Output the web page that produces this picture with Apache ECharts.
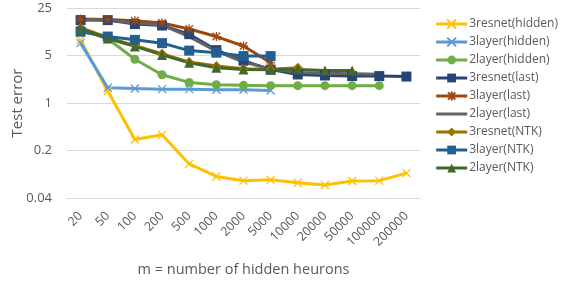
<!DOCTYPE html>
<html>
<head>
  <meta charset="utf-8">
  <title>Test error vs hidden neurons</title>
  <style>
    html, body { margin: 0; padding: 0; background: #fff; }
    #chart { width: 563px; height: 281px; }
  </style>
  <script src="https://cdn.jsdelivr.net/npm/echarts@6/dist/echarts.min.js"></script>
</head>
<body>
  <div id="chart"></div>
  <script>
    // x categories
    var neurons = ['20', '50', '100', '200', '500', '1000', '2000', '5000', '10000', '20000', '50000', '100000', '200000'];

    // test error per series (null = no point)
    var resnet3Hidden = [8.4, 1.5, 0.29, 0.34, 0.127, 0.083, 0.072, 0.074, 0.067, 0.062, 0.071, 0.072, 0.093];
    var layer3Hidden = [7.6, 1.68, 1.63, 1.6, 1.6, 1.57, 1.57, 1.53, null, null, null, null, null];
    var layer2Hidden = [12, 8.8, 4.4, 2.6, 2.01, 1.86, 1.82, 1.8, 1.8, 1.8, 1.8, 1.8, null];
    var resnet3Last = [16.6, 16.6, 14.5, 13.8, 10.3, 6.0, 4.2, 3.1, 2.63, 2.54, 2.49, 2.49, 2.45];
    var layer3Last = [17.2, 17, 16.2, 15, 12.3, 9.5, 6.9, 3.9, null, null, null, null, null];
    var layer2Last = [16.8, 16.5, 15, 14, 9.5, 5.8, 4.0, 3.2, 2.8, 2.75, 2.7, 2.65, null];
    var resnet3NTK = [12.8, 9.2, 7.0, 5.3, 4.0, 3.5, 3.2, 3.15, 3.3, null, null, null, null];
    var layer3NTK = [11.2, 9.5, 8.5, 7.6, 5.9, 5.5, 4.9, 4.9, null, null, null, null, null];
    var layer2NTK = [12.3, 8.9, 6.8, 5.1, 3.9, 3.3, 3.1, 3.08, 3.1, 3.0, 3.0, null, null];

    var yTicks = [0.04, 0.2, 1, 5, 25];

    var xMark = 'path://M0,0L10,10M10,0L0,10';
    var starMark = 'path://M0,0L10,10M10,0L0,10M5,-1L5,11M-1,5L11,5';

    function mk(name, data, color, symbol, size, hollow) {
      return {
        name: name,
        type: 'line',
        data: data,
        symbol: symbol,
        symbolSize: size,
        connectNulls: false,
        lineStyle: { color: color, width: 3 },
        itemStyle: { color: color, borderColor: color, borderWidth: hollow ? 1.3 : 0 },
        emphasis: { disabled: true },
        animation: false
      };
    }

    var legendNames = ['3resnet(hidden)', '3layer(hidden)', '2layer(hidden)', '3resnet(last)', '3layer(last)', '2layer(last)', '3resnet(NTK)', '3layer(NTK)', '2layer(NTK)'];

    var chart = echarts.init(document.getElementById('chart'));
    chart.setOption({
      backgroundColor: '#fff',
      textStyle: { fontFamily: 'Open Sans, Noto Sans, sans-serif' },
      grid: { left: 67, right: 143, top: 8, bottom: 83, containLabel: false, outerBoundsMode: 'none' },
      legend: {
        orient: 'vertical',
        right: 0,
        top: 13,
        itemWidth: 31,
        itemHeight: 11,
        itemGap: 6,
        lineStyle: { width: 3 },
        textStyle: { color: '#595959', fontSize: 12, padding: [0, 0, 0, -3] },
        data: legendNames.map(function (n) {
          return n === '2layer(last)' ? { name: n, itemStyle: { opacity: 0 } } : n;
        })
      },
      xAxis: {
        type: 'category',
        data: neurons,
        boundaryGap: true,
        name: 'm = number of hidden heurons',
        nameLocation: 'middle',
        nameGap: 64,
        nameMoveOverlap: false,
        nameTextStyle: { color: '#595959', fontSize: 14.5 },
        axisLine: { lineStyle: { color: '#D9D9D9' } },
        axisTick: { show: false },
        axisLabel: { rotate: 45, interval: 0, color: '#595959', fontSize: 12.5, margin: 16 }
      },
      yAxis: {
        type: 'log',
        logBase: 5,
        min: 0.04,
        max: 25,
        name: 'Test error',
        nameLocation: 'middle',
        nameGap: 42,
        nameMoveOverlap: false,
        nameTextStyle: { color: '#595959', fontSize: 15 },
        axisLine: { show: false },
        axisTick: { show: false },
        splitLine: { lineStyle: { color: '#D9D9D9' } },
        axisLabel: {
          color: '#595959', fontSize: 13, margin: 15,
          formatter: function (v) {
            for (var i = 0; i < yTicks.length; i++) {
              if (Math.abs(v - yTicks[i]) / yTicks[i] < 0.01) return String(yTicks[i]);
            }
            return '';
          }
        }
      },
      series: [
        mk('3resnet(hidden)', resnet3Hidden, '#FFC000', xMark, 8, true),
        mk('3layer(hidden)', layer3Hidden, '#5B9BD5', xMark, 8, true),
        mk('2layer(hidden)', layer2Hidden, '#70AD47', 'circle', 9),
        mk('3resnet(last)', resnet3Last, '#264478', 'rect', 10),
        mk('3layer(last)', layer3Last, '#9E480E', starMark, 9, true),
        mk('2layer(last)', layer2Last, '#636363', 'none', 0),
        mk('3resnet(NTK)', resnet3NTK, '#997300', 'diamond', 10),
        mk('3layer(NTK)', layer3NTK, '#255E91', 'rect', 10),
        mk('2layer(NTK)', layer2NTK, '#43682B', 'triangle', 10)
      ]
    });
  </script>
</body>
</html>
